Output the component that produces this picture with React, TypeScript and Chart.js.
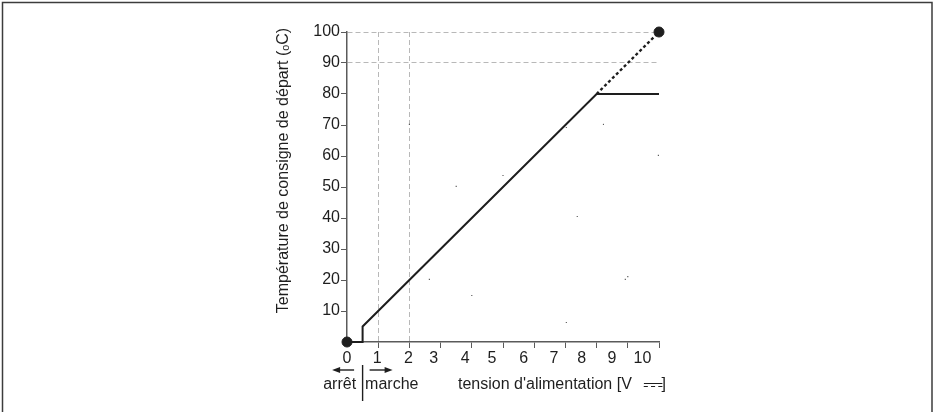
import { useEffect, useRef } from 'react';
import { Chart, registerables } from 'chart.js';

Chart.register(...registerables);

// ---- data ----
const xTickValues = [0, 1, 2, 3, 4, 5, 6, 7, 8, 9, 10];
const xTickLabels = ['0', '1', '2', '3', '4', '5', '6', '7', '8', '9', '10'];
const yTickStep = 10;
const curveX = [0, 0.5, 0.5, 8, 10];
const curveY = [0, 0, 5, 80, 80];
const extensionX = [8, 10];
const extensionY = [80, 100];
const markerX = [0, 10];
const markerY = [0, 100];
const speckX = [2.0, 2.64, 3.5, 4.0, 5.0, 7.03, 7.38, 7.03, 8.22, 9.0, 8.92, 9.98];
const speckY = [70.2, 20.2, 50.2, 15, 53.7, 69.2, 40.5, 6.3, 70.2, 21.1, 20.2, 60.2];
const yGridValues = [90, 100];
const xGridValues = [1, 2];
const onOffThreshold = 0.5;
const yTitle = 'Température de consigne de départ (ₒC)';
const xTitleParts = ["tension d'alimentation [V", '⎓', ']'];
const offLabel = 'arrêt';
const onLabel = 'marche';

// ---- style ----
const FONT = '"Liberation Sans", Arial, Helvetica, sans-serif';
const INK = '#1e1e1e';
const AXIS = '#5a5a5a';
const GRID = '#b8b8b8';
const xLabelShift = [0, -1, -1, -7, -6.5, -11, -10.6, -11.4, -14.8, -15.8, -16.5];

const pts = (xs: number[], ys: number[]) => xs.map((x, i) => ({ x, y: ys[i] }));

const decor = {
  id: 'decor',
  beforeDraw(chart: any) {
    const { ctx } = chart;
    ctx.save();
    ctx.strokeStyle = '#3c3c3c';
    ctx.lineWidth = 1.5;
    ctx.beginPath();
    ctx.moveTo(2.5, 420);
    ctx.lineTo(2.5, 2.5);
    ctx.lineTo(932, 2.5);
    ctx.lineTo(932, 420);
    ctx.stroke();
    ctx.restore();
  },
  afterDraw(chart: any) {
    const { ctx, chartArea } = chart;
    const x = chart.scales.x;
    ctx.save();
    ctx.fillStyle = INK;
    ctx.strokeStyle = INK;
    ctx.font = `16px ${FONT}`;
    ctx.textBaseline = 'middle';
    ctx.textAlign = 'center';
    xTickValues.forEach((v, i) => {
      ctx.fillText(xTickLabels[i], x.getPixelForValue(v) + xLabelShift[i], chartArea.bottom + 16.5);
    });

    // y title
    ctx.save();
    ctx.translate(283.5, 170.5);
    ctx.rotate(-Math.PI / 2);
    ctx.fillText(yTitle, 0, 0);
    ctx.restore();

    // on / off annotation
    const sx = x.getPixelForValue(onOffThreshold);
    const ay = chartArea.bottom + 28;
    ctx.lineWidth = 1.4;
    ctx.beginPath();
    ctx.moveTo(sx, chartArea.bottom + 23);
    ctx.lineTo(sx, chartArea.bottom + 59);
    ctx.stroke();

    const arrow = (from: number, to: number) => {
      const dir = Math.sign(to - from);
      ctx.beginPath();
      ctx.moveTo(from, ay);
      ctx.lineTo(to - dir * 5, ay);
      ctx.stroke();
      ctx.beginPath();
      ctx.moveTo(to, ay);
      ctx.lineTo(to - dir * 8, ay - 3);
      ctx.lineTo(to - dir * 8, ay + 3);
      ctx.closePath();
      ctx.fill();
    };
    arrow(sx - 8.5, sx - 30.5);
    arrow(sx + 7, sx + 30);

    const ty = chartArea.bottom + 43;
    ctx.textAlign = 'right';
    ctx.fillText(offLabel, sx - 6.5, ty);
    ctx.textAlign = 'left';
    ctx.fillText(onLabel, sx + 2.5, ty);
    ctx.fillText(xTitleParts[0], 458, ty);

    // DC symbol, stretched
    ctx.save();
    ctx.font = `16px "DejaVu Sans", ${FONT}`;
    const w = ctx.measureText(xTitleParts[1]).width || 1;
    ctx.translate(642.5, ty + 0.5);
    ctx.scale(20.5 / w, 1.25);
    ctx.fillText(xTitleParts[1], 0, 0);
    ctx.restore();
    ctx.fillText(xTitleParts[2], 661.5, ty);
    ctx.restore();
  },
};

export default function App() {
  const ref = useRef<HTMLCanvasElement>(null);

  useEffect(() => {
    const canvas = ref.current;
    if (!canvas) return;
    const chart = new Chart(canvas, {
      type: 'scatter',
      data: {
        datasets: [
          {
            data: pts(curveX, curveY),
            showLine: true,
            borderColor: INK,
            borderWidth: 2,
            pointRadius: 0,
            pointHoverRadius: 0,
            clip: false,
          },
          {
            data: pts(extensionX, extensionY),
            showLine: true,
            borderColor: INK,
            borderWidth: 2.4,
            borderDash: [3, 2.5],
            pointRadius: 0,
            pointHoverRadius: 0,
            clip: false,
          },
          {
            data: pts(markerX, markerY),
            showLine: false,
            backgroundColor: INK,
            borderColor: INK,
            pointRadius: 5,
            clip: false,
          },
          {
            data: pts(speckX, speckY),
            showLine: false,
            backgroundColor: '#555',
            borderWidth: 0,
            pointStyle: 'rect',
            pointRadius: 0.8,
            clip: false,
          },
        ],
      } as any,
      options: {
        animation: false,
        responsive: false,
        events: [],
        layout: { padding: { left: 0, top: 32, right: 279, bottom: 0 } },
        plugins: { legend: { display: false }, tooltip: { enabled: false }, title: { display: false } },
        scales: {
          x: {
            type: 'linear',
            min: 0,
            max: 10,
            afterFit: (s: any) => { s.height = 70; },
            afterBuildTicks: (s: any) => { s.ticks = xTickValues.map((v) => ({ value: v })); },
            ticks: { display: false, stepSize: 1 },
            grid: {
              color: (c: any) => (xGridValues.includes(c.tick?.value) ? GRID : 'rgba(0,0,0,0)'),
              lineWidth: 1,
              tickColor: (c: any) => (c.tick?.value === 0 ? 'rgba(0,0,0,0)' : AXIS),
              tickLength: 6,
              tickBorderDash: [],
            },
            border: { color: AXIS, width: 1.5, dash: [5, 3] },
          },
          y: {
            type: 'linear',
            min: 0,
            max: 100,
            afterFit: (s: any) => { s.width = 347; },
            ticks: {
              stepSize: yTickStep,
              padding: 1,
              color: INK,
              font: { family: FONT, size: 16 },
              callback: (v: any) => (v === 0 ? '' : String(v)),
            },
            grid: {
              color: (c: any) => (yGridValues.includes(c.tick?.value) ? GRID : 'rgba(0,0,0,0)'),
              lineWidth: 1,
              tickColor: (c: any) => (c.tick?.value === 0 ? 'rgba(0,0,0,0)' : AXIS),
              tickLength: 6,
              tickBorderDash: [],
            },
            border: { color: AXIS, width: 1.5, dash: [5, 3] },
          },
        },
      } as any,
      plugins: [decor],
    });
    return () => chart.destroy();
  }, []);

  return (
    <canvas
      ref={ref}
      width={938}
      height={412}
      style={{ position: 'absolute', left: 0, top: 0, width: 938, height: 412 }}
    />
  );
}
